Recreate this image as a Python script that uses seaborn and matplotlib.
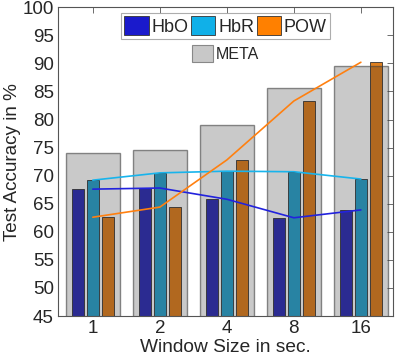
#Test accuracy vs window size, grouped bars with META overlay
import numpy as np
import pandas as pd
import matplotlib
matplotlib.use('Agg')
import matplotlib.pyplot as plt
import seaborn as sns
from matplotlib.patches import Patch

windows = ['1', '2', '4', '8', '16']
hbo = [67.6, 67.8, 65.8, 62.5, 63.9]
hbr = [69.2, 70.5, 70.8, 70.7, 69.4]
pow_ = [62.6, 64.4, 72.8, 83.3, 90.2]
meta = [74.0, 74.5, 79.0, 85.6, 89.6]

signals = ['HbO', 'HbR', 'POW']
bar_colors = ['#1a1acc', '#10b0e8', '#ff8000']
line_colors = ['#2222dd', '#18b4ec', '#ff8010']

sns.set_style('white')
plt.rcParams['font.family'] = ['Liberation Sans', 'DejaVu Sans']

df = pd.DataFrame({
    'window': windows * 3,
    'signal': [s for s in signals for _ in windows],
    'acc': hbo + hbr + pow_,
})
df_meta = pd.DataFrame({'window': windows, 'acc': meta})

fig = plt.figure(figsize=(3.97, 3.62), dpi=100)
ax = fig.add_axes([0.146, 0.127, 0.844, 0.853])

#colored bars first, gray META drawn on top with transparency
sns.barplot(data=df, x='window', y='acc', hue='signal', palette=bar_colors,
            width=0.67, gap=0.2, errorbar=None, edgecolor='#333333',
            linewidth=0.6, legend=False, ax=ax, zorder=2)
n = len(ax.patches)
sns.barplot(data=df_meta, x='window', y='acc', color='#c8c8c8', width=0.8,
            errorbar=None, ax=ax, zorder=3)
for p in ax.patches[n:]:
    p.set_facecolor((0.12, 0.12, 0.12, 0.24))
    p.set_edgecolor((0.25, 0.25, 0.25, 0.6))
    p.set_linewidth(1.0)

sns.pointplot(data=df, x='window', y='acc', hue='signal', palette=line_colors,
              markers='', errorbar=None, linewidth=1.2, legend=False, ax=ax,
              zorder=4)

ax.set_ylim(45, 100)
ax.set_xlim(-0.52, 4.48)
ax.set_yticks(np.arange(45, 101, 5))
ax.set_xlabel('Window Size in sec.', fontsize=13.8, labelpad=1)
ax.set_ylabel('Test Accuracy in %', fontsize=13.6, labelpad=1)
ax.tick_params(axis='both', direction='in', length=4, width=0.6,
               top=True, right=True, labelsize=13.5, color='#555555', pad=3)
for s in ax.spines.values():
    s.set_color('#555555')
    s.set_linewidth(0.8)

h1 = [Patch(facecolor=c, edgecolor='#333333', linewidth=0.6) for c in bar_colors]
leg1 = ax.legend(h1, signals, loc='upper center', ncol=3, fontsize=13,
                 frameon=True, fancybox=False, edgecolor='#999999',
                 handlelength=1.35, handleheight=1.2, handletextpad=0.15,
                 columnspacing=0.15, borderpad=0.2, borderaxespad=0.3,
                 bbox_to_anchor=(0.5, 1.0))
leg1.get_frame().set_linewidth(0.8)
ax.add_artist(leg1)
h2 = [Patch(facecolor='#c8c8c8', edgecolor='#888888', linewidth=0.8)]
ax.legend(h2, ['META'], loc='upper center', fontsize=11.5, frameon=False,
          handlelength=1.3, handleheight=1.3, handletextpad=0.2,
          bbox_to_anchor=(0.5, 0.925))

plt.savefig('out.png', dpi=100)
